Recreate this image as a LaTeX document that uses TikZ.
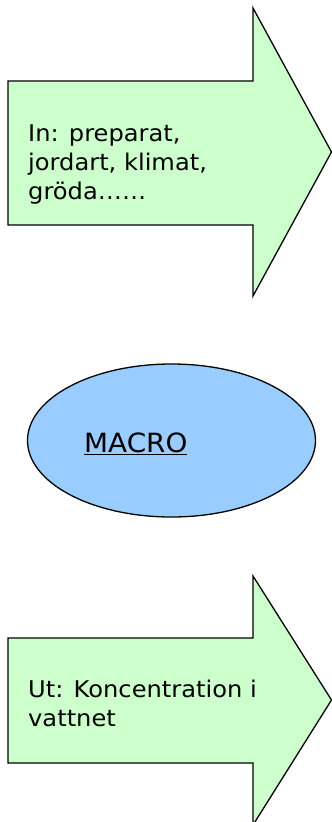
\documentclass[tikz,border=0pt]{standalone}
\usepackage{fontspec}
\setmainfont{DejaVu Sans}[FakeStretch=1.05]
\usetikzlibrary{positioning,shapes.geometric}
\definecolor{paleGreen}{HTML}{CCFFCC}
\definecolor{skyBlue}{HTML}{99CCFF}
\tikzset{
  bigarrow/.style={draw=black, line width=1.3pt, line join=miter, fill=paleGreen},
  modelnode/.style={draw=black, line width=1.3pt, fill=skyBlue, ellipse, inner sep=0pt, minimum width=288pt, minimum height=153pt},
  arrowtext/.style={anchor=base west, align=left, inner sep=0pt, font=\fontsize{23}{29}\selectfont},
  modeltext/.style={anchor=base west, inner sep=0pt, font=\fontsize{26.5}{30}\selectfont}
}

\begin{document}
\begin{tikzpicture}[x=1pt, y=-1pt]
  \useasboundingbox (0,0) rectangle (332,822);
  % input arrow
  \draw[bigarrow] (8,81) -- (253,81) -- (253,8) -- (331.5,152) -- (253,296) -- (253,225) -- (8,225) -- cycle;
  \node[arrowtext] (intext) at (28,199) {In: preparat,\\jordart, klimat,\\gröda……};
  % model
  \node[modelnode] (macro) at (171.5,440.5) {};
  \node[modeltext] (macrotext) at (84,452) {\underline{MACRO}};
  % output arrow
  \draw[bigarrow] (8,638) -- (253,638) -- (253,576) -- (331.5,700) -- (253,825) -- (253,763) -- (8,763) -- cycle;
  \node[arrowtext] (uttext) at (28,726) {Ut: Koncentration i\\vattnet};
\end{tikzpicture}
\end{document}
